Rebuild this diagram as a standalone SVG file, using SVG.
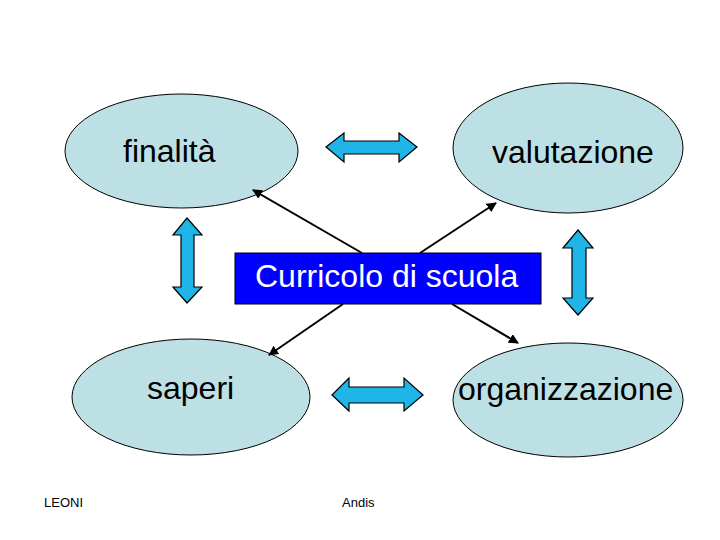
<svg xmlns="http://www.w3.org/2000/svg" width="720" height="540" viewBox="0 0 720 540">
<style>
.node{fill:#BDE0E4;stroke:#000;stroke-width:1}
.lbl{font-family:"Liberation Sans",Arial,sans-serif;font-size:32px;fill:#000}
.small{font-family:"Liberation Sans",Arial,sans-serif;font-size:13px;fill:#000}
.blk{fill:#1FB5E6;stroke:#000;stroke-width:1.2;stroke-linejoin:miter}
.con{stroke:#000;stroke-width:2;fill:none;marker-end:url(#ah)}
</style>
<defs>
<marker id="ah" viewBox="0 0 10 10" refX="9" refY="5" markerWidth="5" markerHeight="5" orient="auto" markerUnits="strokeWidth">
<path d="M0,0 L10,5 L0,10 z" fill="#000"/>
</marker>
</defs>
<rect width="720" height="540" fill="#fff"/>
<g id="finalita">
<ellipse class="node" cx="181.5" cy="151" rx="116.5" ry="57"/>
<text class="lbl" x="123" y="162">finalità</text>
</g>
<g id="valutazione">
<ellipse class="node" cx="568" cy="148" rx="115" ry="65"/>
<text class="lbl" x="492" y="163">valutazione</text>
</g>
<g id="saperi">
<ellipse class="node" cx="191" cy="397" rx="119" ry="58"/>
<text class="lbl" x="147" y="399">saperi</text>
</g>
<g id="organizzazione">
<ellipse class="node" cx="568" cy="400" rx="115" ry="57"/>
<text class="lbl" x="458" y="400">organizzazione</text>
</g>
<g id="connectors">
<line class="con" x1="362" y1="253" x2="253" y2="190"/>
<line class="con" x1="420" y1="253" x2="496" y2="203"/>
<line class="con" x1="343" y1="304" x2="269" y2="355"/>
<line class="con" x1="452" y1="304" x2="518" y2="343"/>
<polygon class="blk" points="326,147 344,133 344,141 399,141 399,133 417,147 399,162 399,154 344,154 344,162"/>
<polygon class="blk" points="332,395 349,378 349,387 404,387 404,378 423,395 404,411 404,403 349,403 349,411"/>
<polygon class="blk" points="187,218 202,235 194,235 194,287 202,287 187,303 173,287 181,287 181,235 173,235"/>
<polygon class="blk" points="578,230 593,248 586,248 586,298 593,298 578,315 563,298 572,298 572,248 563,248"/>
</g>
<g id="curricolo">
<rect x="235" y="253" width="306" height="51" fill="#0000FF" stroke="#000" stroke-width="1"/>
<text class="lbl" x="255" y="287" fill="#fff" style="fill:#fff">Curricolo di scuola</text>
</g>
<text class="small" x="44" y="507">LEONI</text>
<text class="small" x="342" y="507">Andis</text>
</svg>
